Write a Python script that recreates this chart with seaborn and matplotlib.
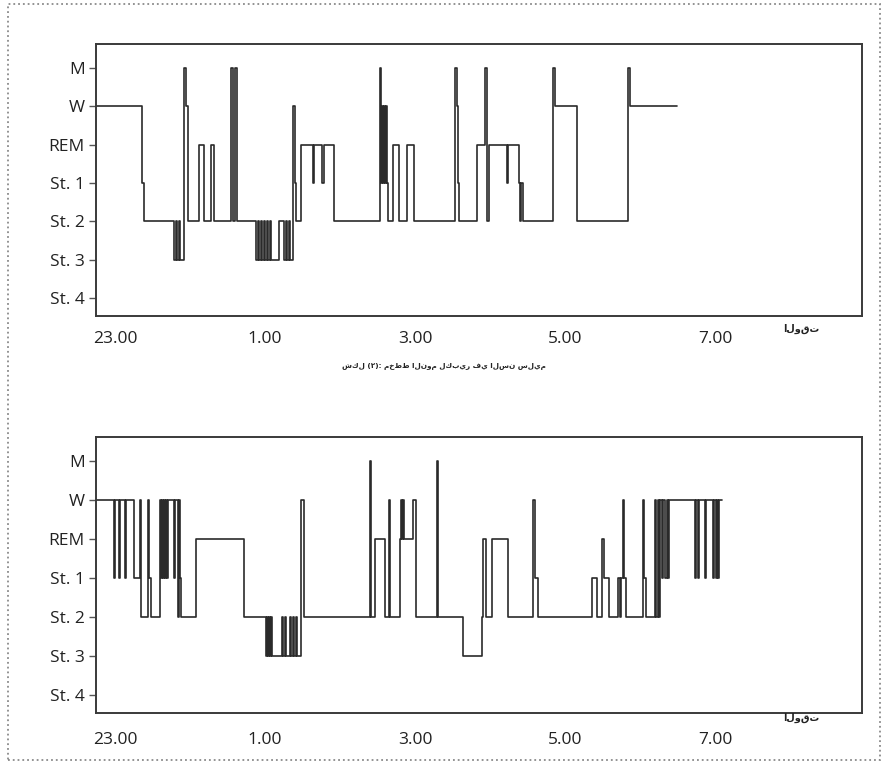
import matplotlib
matplotlib.use("Agg")
import matplotlib.pyplot as plt
import numpy as np
import pandas as pd
import seaborn as sns
from matplotlib.patches import Rectangle

# ---------------- data ----------------
levels = ['St. 4', 'St. 3', 'St. 2', 'St. 1', 'REM', 'W', 'M']
time_ticks = [0, 120, 240, 360, 480]          # minutes after 23:00
time_labels = ['23.00', '1.00', '3.00', '5.00', '7.00']
axis_word = 'الوقت'
caption_words = ['شكل', '(٢):', 'مخطط', 'النوم', 'لكبير', 'في', 'السن', 'سليم']

top_minutes = [-15.2, 21.6, 23.2, 47.2, 48.8, 49.6, 51.2, 52.0, 55.2, 56.8,
               58.4, 67.2, 70.8, 76.8, 78.8, 92.8, 94.4, 96.0, 97.6, 112.8,
               114.4, 115.2, 116.8, 117.6, 119.2, 120.0, 121.6, 122.4, 124.0, 124.8,
               131.2, 135.2, 136.8, 137.6, 139.2, 140.0, 142.4, 144.0, 144.8, 148.8,
               158.0, 158.8, 165.6, 166.8, 175.2, 211.6, 212.8, 213.6, 214.4, 215.2,
               216.0, 216.8, 217.6, 218.4, 222.4, 227.2, 233.6, 238.8, 272.0, 273.2,
               274.4, 275.2, 289.4, 296.0, 297.6, 299.2, 313.2, 314.0, 322.8, 324.0,
               324.8, 326.0, 350.4, 352.0, 369.4, 410.6, 411.6, 449.4]
top_stages = ['W', 'St. 1', 'St. 2', 'St. 3', 'St. 2', 'St. 3', 'St. 2', 'St. 3', 'M', 'W',
              'St. 2', 'REM', 'St. 2', 'REM', 'St. 2', 'M', 'St. 2', 'M', 'St. 2', 'St. 3',
              'St. 2', 'St. 3', 'St. 2', 'St. 3', 'St. 2', 'St. 3', 'St. 2', 'St. 3', 'St. 2', 'St. 3',
              'St. 2', 'St. 3', 'St. 2', 'St. 3', 'St. 2', 'St. 3', 'W', 'St. 1', 'St. 2', 'REM',
              'St. 1', 'REM', 'St. 1', 'REM', 'St. 2', 'M', 'St. 1', 'W', 'St. 1', 'W',
              'St. 1', 'W', 'St. 1', 'St. 2', 'REM', 'St. 2', 'REM', 'St. 2', 'M', 'W',
              'St. 1', 'St. 2', 'REM', 'M', 'St. 2', 'REM', 'St. 1', 'REM', 'St. 1', 'St. 2',
              'St. 1', 'St. 2', 'M', 'W', 'St. 2', 'M', 'W', 'W']

bottom_minutes = [-15.2, -0.8, 0.0, 3.2, 4.0, 8.0, 8.8, 15.2, 19.6, 20.8,
                  26.0, 27.2, 28.8, 35.6, 36.4, 37.2, 38.0, 38.8, 39.6, 40.4,
                  41.2, 42.0, 47.2, 48.0, 50.0, 50.8, 51.6, 52.8, 64.8, 102.8,
                  120.8, 121.6, 122.4, 123.2, 124.0, 124.8, 125.6, 133.6, 134.4, 136.0,
                  136.8, 140.0, 140.8, 142.4, 143.2, 144.8, 145.6, 148.4, 150.8, 204.0,
                  204.8, 208.0, 216.0, 219.2, 220.0, 228.0, 228.8, 229.6, 230.4, 231.2,
                  238.4, 240.4, 257.4, 258.4, 278.6, 293.6, 294.4, 296.8, 301.2, 314.4,
                  334.6, 336.0, 338.0, 381.4, 385.2, 389.2, 391.2, 394.8, 402.4, 403.6,
                  404.8, 406.4, 407.2, 408.8, 422.0, 423.2, 424.8, 432.0, 432.8, 434.0,
                  434.8, 436.0, 437.2, 438.4, 439.6, 441.2, 442.4, 443.2, 464.0, 464.8,
                  466.0, 466.8, 471.6, 472.4, 478.4, 479.2, 480.4, 481.2, 482.4, 483.2,
                  485.4]
bottom_stages = ['W', 'St. 1', 'W', 'St. 1', 'W', 'St. 1', 'W', 'St. 1', 'W', 'St. 2',
                 'W', 'St. 1', 'St. 2', 'W', 'St. 1', 'W', 'St. 1', 'W', 'St. 1', 'W',
                 'St. 1', 'W', 'St. 1', 'W', 'St. 2', 'W', 'St. 1', 'St. 2', 'REM', 'St. 2',
                 'St. 3', 'St. 2', 'St. 3', 'St. 2', 'St. 3', 'St. 2', 'St. 3', 'St. 2', 'St. 3', 'St. 2',
                 'St. 3', 'St. 2', 'St. 3', 'St. 2', 'St. 3', 'St. 2', 'St. 3', 'W', 'St. 2', 'M',
                 'St. 2', 'REM', 'St. 2', 'W', 'St. 2', 'REM', 'W', 'REM', 'W', 'REM',
                 'W', 'St. 2', 'M', 'St. 2', 'St. 3', 'St. 2', 'REM', 'St. 2', 'REM', 'St. 2',
                 'W', 'St. 1', 'St. 2', 'St. 1', 'St. 2', 'REM', 'St. 1', 'St. 2', 'St. 1', 'St. 2',
                 'St. 1', 'W', 'St. 1', 'St. 2', 'W', 'St. 1', 'St. 2', 'W', 'St. 2', 'W',
                 'St. 2', 'W', 'St. 1', 'W', 'St. 1', 'W', 'St. 1', 'W', 'St. 1', 'W',
                 'St. 1', 'W', 'St. 1', 'W', 'St. 1', 'W', 'St. 1', 'W', 'St. 1', 'W',
                 'W']

# ---------------- figure ----------------
sns.set_style('white')
plt.rcParams['font.family'] = ['Open Sans', 'DejaVu Sans']

fig = plt.figure(figsize=(8.84, 7.64), dpi=100)
fig.patch.set_facecolor('white')

W, H = 884, 764
ax_top = fig.add_axes([96 / W, 1 - 316 / H, (862 - 96) / W, (316 - 44) / H])
ax_bot = fig.add_axes([96 / W, 1 - 713 / H, (862 - 96) / W, (713 - 437) / H])

level_index = {name: i for i, name in enumerate(levels)}

for ax, mins, stages, xpad in [(ax_top, top_minutes, top_stages, 11),
                               (ax_bot, bottom_minutes, bottom_stages, 14)]:
    df = pd.DataFrame({'minute': mins,
                       'level': [level_index[s] for s in stages]})
    sns.lineplot(data=df, x='minute', y='level', ax=ax, estimator=None,
                 sort=False, drawstyle='steps-post', color='#2a2a2a',
                 linewidth=1.2)
    ax.set_xlim(-15.2, 597.6)
    ax.set_ylim(-0.47, 6.62)
    ax.set_yticks(range(len(levels)))
    ax.set_yticklabels(levels, fontsize=12.5, color='#222222')
    ax.set_xticks(time_ticks)
    ax.set_xticklabels(time_labels, fontsize=12.5, color='#222222')
    ax.tick_params(axis='y', left=True, length=5, width=1.0, color='#555555',
                   direction='out', pad=3)
    ax.tick_params(axis='x', bottom=False, length=0, pad=xpad)
    ax.set_xlabel('')
    ax.set_ylabel('')
    for sp in ax.spines.values():
        sp.set_visible(True)
        sp.set_color('#3a3a3a')
        sp.set_linewidth(1.4)
    ax.set_facecolor('white')

# axis word "time"
for ypx in (329, 718):
    fig.text(801 / W, 1 - ypx / H, axis_word, ha='center', va='center',
             fontsize=7, fontweight='bold', family=['DejaVu Sans'],
             color='#222222')

# caption between charts (words laid out left to right, as in the scan)
LRM = '\u200e'
caption_display = LRM + (LRM + ' ').join(caption_words) + LRM
fig.text(444 / W, 1 - 366 / H, caption_display, ha='center', va='center',
         fontsize=5.2, fontweight='bold', family=['DejaVu Sans'], color='#222222')

# page frame
fig.patches.append(Rectangle((8 / W, 4 / H), (880 - 8) / W, (760 - 4) / H,
                             transform=fig.transFigure, fill=False,
                             edgecolor='#8a8a8a', linewidth=1.3, linestyle=':'))

fig.savefig('out.png', dpi=100, facecolor='white')
